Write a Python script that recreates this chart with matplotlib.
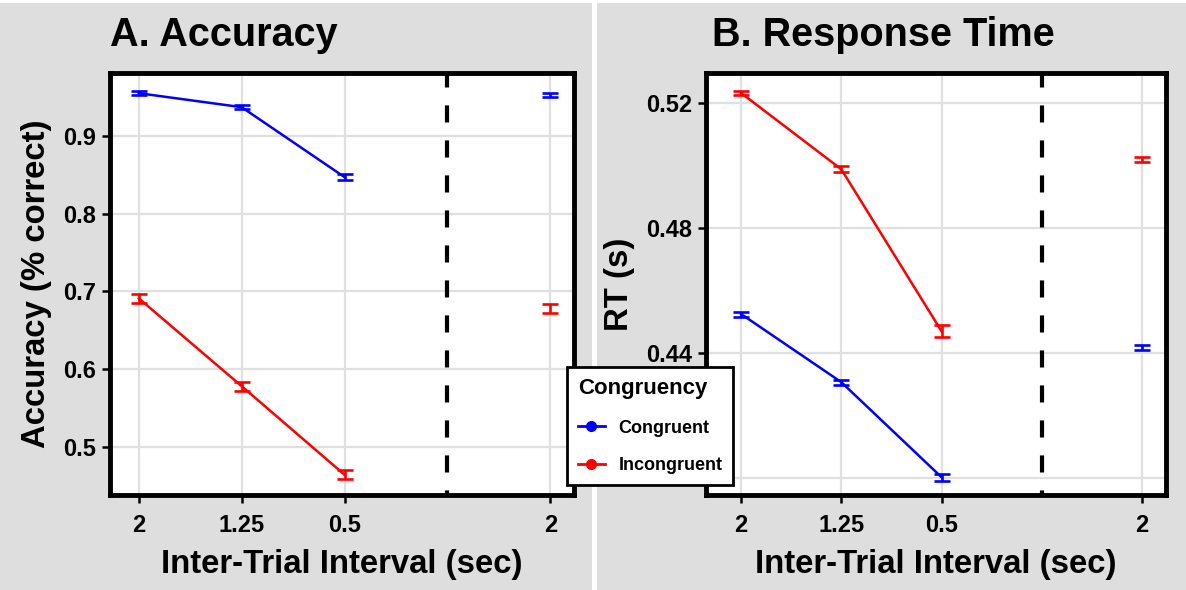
import matplotlib
matplotlib.use("Agg")
import matplotlib.pyplot as plt
from matplotlib.patches import Rectangle
from matplotlib.lines import Line2D

plt.rcParams['font.family'] = ['Liberation Sans', 'DejaVu Sans']

# ---- data ----
x_labels = ["2", "1.25", "0.5", "2"]
acc_cong = [0.955, 0.937, 0.847, 0.953]
acc_cong_err = [0.0026, 0.0026, 0.004, 0.0026]
acc_incong = [0.691, 0.578, 0.464, 0.678]
acc_incong_err = [0.0055, 0.0058, 0.006, 0.0058]
rt_cong = [0.4525, 0.4307, 0.4003, 0.4418]
rt_cong_err = [0.0008, 0.0008, 0.0011, 0.0007]
rt_incong = [0.5232, 0.4988, 0.4470, 0.5018]
rt_incong_err = [0.0007, 0.0010, 0.0019, 0.0008]
acc_ticks = [0.5, 0.6, 0.7, 0.8, 0.9]
acc_tick_labels = ["0.5", "0.6", "0.7", "0.8", "0.9"]
rt_ticks = [0.40, 0.44, 0.48, 0.52]
rt_tick_labels = ["", "0.44", "0.48", "0.52"]  # 0.40 label hidden behind legend in original

BLUE = "#0000FF"
RED = "#FF0000"
GREY = "#DEDEDE"
xpos = [1, 2, 3, 5]

fig = plt.figure(figsize=(11.86, 5.90), dpi=100)
fig.patch.set_facecolor("white")
W, H = 1186, 590
fig.patches.append(Rectangle((0, 0), 592 / W, 587 / H, transform=fig.transFigure,
                             facecolor=GREY, edgecolor="none", zorder=-10))
fig.patches.append(Rectangle((597 / W, 0), (W - 597) / W, 587 / H, transform=fig.transFigure,
                             facecolor=GREY, edgecolor="none", zorder=-10))

def make_ax(left_px, right_px, top_px=73, bottom_px=495):
    return fig.add_axes([left_px / W, 1 - bottom_px / H, (right_px - left_px) / W,
                         (bottom_px - top_px) / H])

def style(ax, xlim, ylim, yticks, ylabels):
    ax.set_facecolor("white")
    ax.set_xlim(*xlim)
    ax.set_ylim(*ylim)
    ax.set_xticks(xpos)
    ax.set_xticklabels(x_labels)
    ax.set_yticks(yticks)
    ax.set_yticklabels(ylabels)
    ax.grid(True, color="#E0E0E0", linewidth=1.6, zorder=0)
    ax.set_axisbelow(True)
    for s in ax.spines.values():
        s.set_linewidth(3.5)
        s.set_color("black")
    ax.tick_params(axis="both", length=6, width=1.8, color="black",
                   labelsize=17, labelcolor="black")
    ax.tick_params(axis="x", pad=8)
    ax.tick_params(axis="y", pad=4)
    for lab in ax.get_xticklabels() + ax.get_yticklabels():
        lab.set_fontweight("bold")
    ax.axvline(4, color="black", linestyle=(3, (4.1, 4.3)), linewidth=3, zorder=3)
    ax.set_xlabel("Inter-Trial Interval (sec)", fontsize=23.7, fontweight="bold", labelpad=8)

def draw_series(ax, vals, errs, color):
    ax.plot(xpos[:3], vals[:3], color=color, linewidth=1.8, zorder=4)
    ax.errorbar(xpos, vals, yerr=errs, fmt="none", ecolor=color, elinewidth=1.9,
                capsize=5.5, capthick=1.9, zorder=5)

# Panel A
axA = make_ax(110, 574)
style(axA, (0.72, 5.23), (0.438, 0.981), acc_ticks, acc_tick_labels)
draw_series(axA, acc_cong, acc_cong_err, BLUE)
draw_series(axA, acc_incong, acc_incong_err, RED)
axA.set_ylabel("Accuracy (% correct)", fontsize=23.7, fontweight="bold", labelpad=8)
fig.text(110 / W, 1 - 35 / H, "A. Accuracy", fontsize=28.5, fontweight="bold",
         ha="left", va="center")

# Panel B
axB = make_ax(706, 1166)
style(axB, (0.65, 5.24), (0.3946, 0.5296), rt_ticks, rt_tick_labels)
draw_series(axB, rt_cong, rt_cong_err, BLUE)
draw_series(axB, rt_incong, rt_incong_err, RED)
axB.set_ylabel("RT (s)", fontsize=23.7, fontweight="bold", labelpad=8)
fig.text(712 / W, 1 - 35 / H, "B. Response Time", fontsize=28.5, fontweight="bold",
         ha="left", va="center")

# Legend
handles = [Line2D([0], [0], color=BLUE, marker="o", markersize=7, linewidth=2),
           Line2D([0], [0], color=RED, marker="o", markersize=7, linewidth=2)]
leg = fig.legend(handles, ["Congruent", "Incongruent"], title="Congruency",
                 loc="upper left", bbox_to_anchor=(567 / W, 1 - 367 / H),
                 borderaxespad=0, frameon=True, fancybox=False, fontsize=13,
                 title_fontproperties={"weight": "bold", "size": 16},
                 handlelength=1.5, handletextpad=0.75, borderpad=0.6,
                 labelspacing=1.15, alignment="left")
leg.get_frame().set_edgecolor("black")
leg.get_frame().set_linewidth(2)
leg.get_frame().set_facecolor("white")
leg.get_frame().set_alpha(1)
for t in leg.get_texts():
    t.set_fontweight("bold")
leg.set_zorder(20)

fig.savefig("out.png", dpi=100)
